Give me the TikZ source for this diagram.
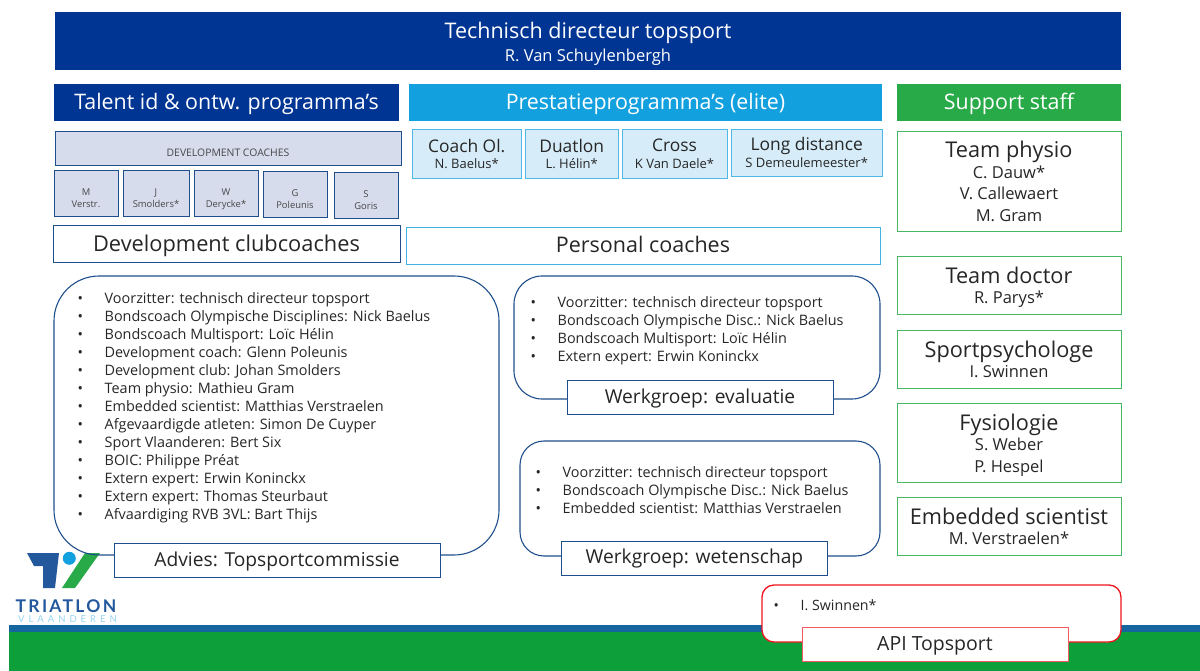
\documentclass[tikz,border=0pt]{standalone}
\usepackage{fontspec}
\setmainfont{Open Sans}
\newfontfamily\logofont[LetterSpace=13]{Lato}
\newfontfamily\logothin[LetterSpace=42]{Lato}
\definecolor{navy}{HTML}{003594}
\definecolor{skyb}{HTML}{13A0DE}
\definecolor{grn}{HTML}{27AA47}
\definecolor{bandb}{HTML}{15659F}
\definecolor{bandg}{HTML}{0DA03A}
\definecolor{lineb}{HTML}{1F4E8C}
\definecolor{devfill}{HTML}{D6DCEC}
\definecolor{skyfill}{HTML}{D6EDF9}
\definecolor{darkt}{HTML}{262626}
\definecolor{logob}{HTML}{24589C}
\definecolor{redl}{HTML}{F0141E}
\newcommand{\fs}[1]{\fontsize{#1}{#1}\selectfont}
\newcommand{\itm}{\makebox[25.5pt][l]{\hspace{-1.5pt}\textbullet}}
% one line of fixed height and depth: height, depth, text
\newcommand{\vln}[3]{\rule[-#2pt]{0pt}{\dimexpr#1pt+#2pt\relax}\smash{#3}}
\newcommand{\stitle}[1]{\fs{21.7}\vln{22}{4}{#1}}
\newcommand{\sname}[1]{\fs{16.5}\vln{15.5}{5}{#1}}
\newcommand{\etitle}[1]{\fs{17.4}\vln{17}{3}{#1}}
\newcommand{\ename}[1]{\fs{13}\vln{12.5}{4}{#1}}
\newcommand{\dtwo}[2]{\vln{19.5}{2}{#1}\\\vln{8.5}{2}{#2}}
\tikzset{
	head/.style={draw=none,text=white,inner sep=0pt,font=\fs{21.4}},
	devbox/.style={draw=lineb,fill=devfill,line width=0.9pt,inner sep=0pt,align=center,text=darkt!85,font=\fs{9.4}},
	eltbox/.style={draw=skyb!75,fill=skyfill,line width=0.9pt,inner sep=0pt,align=center,text=darkt},
	stfbox/.style={draw=grn!85,line width=0.9pt,inner sep=0pt,align=center,text=darkt},
	wgbox/.style={draw=lineb,line width=1pt,fill=white,inner sep=0pt,text=darkt,font=\fs{19.2}},
	listtext/.style={anchor=north west,inner sep=0pt,align=left,text=darkt,font=\fontsize{14.4}{18}\selectfont},
}
\begin{document}
\begin{tikzpicture}[x=1pt,y=-1pt]
	\useasboundingbox (0,0) rectangle (1200,671);
	% bands
	\fill[bandb] (9,625) rectangle (1200,632);
	\fill[bandg] (9,632) rectangle (1200,671);
	% logo
	\fill[logob] (27,553) -- (59,553) -- (55,588) -- (43,588) -- (43,566) -- (34,566) -- cycle;
	\fill[skyb] (69.3,558.3) circle (6.5);
	\fill[grn] (85,553) -- (100,553) -- (75,588) -- (62,588) -- cycle;
	\node[inner sep=0pt,text=logob,font=\logofont\bfseries\fs{17.5}] (logo1) at (66,606){TRIATLON};
	\node[inner sep=0pt,text=skyb!45,font=\logothin\fs{9.5}] (logo2) at (67.5,619.5){VLAANDEREN};
	% top row
	\node[head,fill=navy,minimum width=1066pt,minimum height=58pt,align=center] (top) at (588,41){\fs{21.5}\vln{22}{6}{Technisch directeur topsport}\\\fs{16.5}\vln{16}{4}{R. Van Schuylenbergh}};
	\node[head,fill=navy,minimum width=345pt,minimum height=37pt] (talent) at (226.5,102.5){\vln{15.5}{2}{Talent id \& ontw. programma's}};
	\node[head,fill=skyb,minimum width=473pt,minimum height=37pt] (prest) at (645.5,102.5){\vln{15.5}{2}{Prestatieprogramma's (elite)}};
	\node[head,fill=grn,minimum width=224pt,minimum height=37pt] (support) at (1009,102.5){\vln{15.5}{2}{Support staff}};
	% development
	\node[devbox,minimum width=346pt,minimum height=34pt,font=\fs{10.4}] (dev) at (228,148){\vln{20}{2}{DEVELOPMENT COACHES}};
	\node[devbox,minimum width=64pt,minimum height=46pt] (d1) at (86,193){\dtwo{M}{Verstr.}};
	\node[devbox,minimum width=66pt,minimum height=46pt] (d2) at (156,193){\dtwo{J}{Smolders*}};
	\node[devbox,minimum width=64pt,minimum height=46pt] (d3) at (226,193){\dtwo{W}{Derycke*}};
	\node[devbox,minimum width=64pt,minimum height=46pt] (d4) at (295,194){\dtwo{G}{Poleunis}};
	\node[devbox,minimum width=64pt,minimum height=46pt] (d5) at (366,195){\dtwo{S}{Goris}};
	\node[draw=lineb,line width=1pt,inner sep=0pt,text=darkt,minimum width=347pt,minimum height=37pt,font=\fs{21.8}] (club) at (226.5,244.5){\vln{15.4}{2}{Development clubcoaches}};
	% elite
	\node[eltbox,minimum width=109.5pt,minimum height=49pt] (e1) at (466.7,154){\etitle{Coach Ol.}\\\ename{N. Baelus*}};
	\node[eltbox,minimum width=92.5pt,minimum height=49pt] (e2) at (571.7,154){\etitle{Duatlon}\\\ename{L. Hélin*}};
	\node[eltbox,minimum width=105pt,minimum height=49pt] (e3) at (674.5,153.5){\etitle{Cross}\\\ename{K Van Daele*}};
	\node[eltbox,minimum width=150.5pt,minimum height=47pt] (e4) at (806.7,152.5){\etitle{Long distance}\\\ename{S Demeulemeester*}};
	\node[draw=skyb!80,line width=0.9pt,inner sep=0pt,text=darkt,minimum width=474pt,minimum height=37pt,font=\fs{21.5}] (pers) at (643,245.5){\vln{15.6}{2}{Personal coaches}};
	% support
	\node[stfbox,minimum width=224pt,minimum height=100pt] (s1) at (1009,181){\stitle{Team physio}\\\sname{C. Dauw*}\\\sname{V. Callewaert}\\\sname{M. Gram}};
	\node[stfbox,minimum width=224pt,minimum height=58pt] (s2) at (1009,285){\stitle{Team doctor}\\\sname{R. Parys*}};
	\node[stfbox,minimum width=224pt,minimum height=58pt] (s3) at (1009,359){\stitle{Sportpsychologe}\\\sname{I. Swinnen}};
	\node[stfbox,minimum width=224pt,minimum height=79pt] (s4) at (1009,442.5){\stitle{Fysiologie}\\\sname{S. Weber}\\\sname{P. Hespel}};
	\node[stfbox,minimum width=224pt,minimum height=58pt] (s5) at (1009,526){\stitle{Embedded scientist}\\\sname{M. Verstraelen*}};
	% groups
	\node[draw=lineb,line width=1.1pt,rounded corners=45pt,minimum width=445pt,minimum height=279pt] (adv) at (276.5,415.5){};
	\node[listtext] (advlist) at (79,292){%
		\itm Voorzitter: technisch directeur topsport\\
		\itm Bondscoach Olympische Disciplines: Nick Baelus\\
		\itm Bondscoach Multisport: Loïc Hélin\\
		\itm Development coach: Glenn Poleunis\\
		\itm Development club: Johan Smolders\\
		\itm Team physio: Mathieu Gram\\
		\itm Embedded scientist: Matthias Verstraelen\\
		\itm Afgevaardigde atleten: Simon De Cuyper\\
		\itm Sport Vlaanderen: Bert Six\\
		\itm BOIC: Philippe Préat\\
		\itm Extern expert: Erwin Koninckx\\
		\itm Extern expert: Thomas Steurbaut\\
		\itm Afvaardiging RVB 3VL: Bart Thijs};
	\node[wgbox,minimum width=326pt,minimum height=34pt] (advlab) at (277,560){\vln{14}{2}{Advies: Topsportcommissie}};
	\node[draw=lineb,line width=1.1pt,rounded corners=28pt,minimum width=366pt,minimum height=123pt] (eva) at (697,337.5){};
	\node[listtext] (evalist) at (532,296){%
		\itm Voorzitter: technisch directeur topsport\\
		\itm Bondscoach Olympische Disc.: Nick Baelus\\
		\itm Bondscoach Multisport: Loïc Hélin\\
		\itm Extern expert: Erwin Koninckx};
	\node[wgbox,minimum width=266pt,minimum height=34pt] (evalab) at (700,397){\vln{14.6}{2}{Werkgroep: evaluatie}};
	\node[draw=lineb,line width=1.1pt,rounded corners=24pt,minimum width=360pt,minimum height=115pt] (wet) at (700,498.5){};
	\node[listtext] (wetlist) at (537,466){%
		\itm Voorzitter: technisch directeur topsport\\
		\itm Bondscoach Olympische Disc.: Nick Baelus\\
		\itm Embedded scientist: Matthias Verstraelen};
	\node[wgbox,minimum width=265.5pt,minimum height=34pt] (wetlab) at (694.5,558){\vln{13.2}{2}{Werkgroep: wetenschap}};
	\node[draw=redl,line width=1.3pt,fill=white,rounded corners=12pt,minimum width=359pt,minimum height=57pt] (api) at (941.5,613.5){};
	\node[listtext,font=\fs{14.2}] (apilist) at (775,599.5){\itm I. Swinnen*};
	\node[draw=redl!70,line width=1pt,fill=white,inner sep=0pt,text=darkt,minimum width=266pt,minimum height=34pt,font=\fs{19.5}] (apilab) at (935,644){\vln{14}{2}{API Topsport}};
\end{tikzpicture}
\end{document}
